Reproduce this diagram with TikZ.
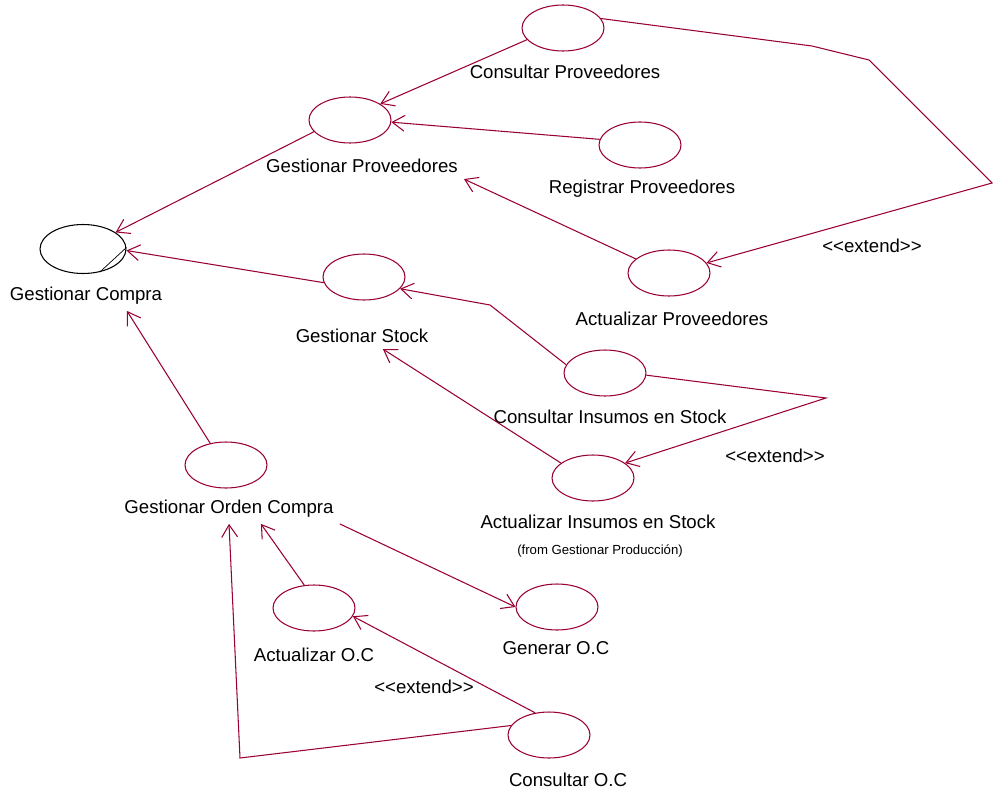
\documentclass[tikz,border=0pt]{standalone}
\usepackage{fontspec}
\newfontfamily\umlfont{Liberation Sans}
\usetikzlibrary{shapes.geometric,arrows.meta}
\definecolor{roseline}{RGB}{153,0,51}
\tikzset{
  usecase/.style={ellipse, draw=roseline, line width=0.6pt, minimum width=1.64cm, minimum height=0.92cm, inner sep=0},
  uclabel/.style={font=\umlfont\fontsize{10.6}{12.7}\selectfont},
  fromlabel/.style={font=\umlfont\fontsize{7.5}{9}\selectfont},
  rel/.style={draw=roseline, line width=0.6pt, -{Straight Barb[length=7pt,width=9pt]}},
}
\begin{document}
\begin{tikzpicture}[x=0.02cm, y=-0.02cm]
    \useasboundingbox (0,0) rectangle (993,794);
    % casos de uso
    \node[usecase, draw=black, minimum width=1.72cm, minimum height=0.98cm] (gc) at (83,249) {};
    \node[usecase] (cp) at (563,28) {};
    \node[usecase] (gp) at (350,120) {};
    \node[usecase] (rp) at (640,145) {};
    \node[usecase] (ap) at (669,273) {};
    \node[usecase] (gs) at (364,277) {};
    \node[usecase] (ci) at (605,373) {};
    \node[usecase] (ai) at (593,478) {};
    \node[usecase] (go) at (226,465) {};
    \node[usecase] (ao) at (314,608) {};
    \node[usecase] (ge) at (557,607) {};
    \node[usecase] (co) at (549,735) {};
    \draw (gc.-54) -- (gc.2);
    % namen
    \node[uclabel] (gcL) at (86,296) {Gestionar Compra};
    \node[uclabel] (cpL) at (565,72) {Consultar Proveedores};
    \node[uclabel] (gpL) at (362,166) {Gestionar Proveedores};
    \node[uclabel] (rpL) at (642,189) {Registrar Proveedores};
    \node[uclabel] (apL) at (672,319) {Actualizar Proveedores};
    \node[uclabel] (gsL) at (362,336) {Gestionar Stock};
    \node[uclabel] (ciL) at (610,417) {Consultar Insumos en Stock};
    \node[uclabel] (aiL) at (598,522) {Actualizar Insumos en Stock};
    \node[fromlabel] (aiF) at (600,551) {(from Gestionar Producción)};
    \node[uclabel] (goL) at (229,509) {Gestionar Orden Compra};
    \node[uclabel] (aoL) at (314,655) {Actualizar O.C};
    \node[uclabel] (geL) at (556,648) {Generar O.C};
    \node[uclabel] (coL) at (568,780) {Consultar O.C};
    \node[uclabel] (ext1) at (872,246) {<<extend>>};
    \node[uclabel] (ext2) at (775,456) {<<extend>>};
    \node[uclabel] (ext3) at (424,687) {<<extend>>};
    % knikpunten
    \coordinate (k1) at (812,46);
    \coordinate (k2) at (869,60);
    \coordinate (k3) at (992,183);
    \coordinate (k4) at (490,305);
    \coordinate (k5) at (826,398);
    \coordinate (k6) at (240,758);
    % relaties
    \draw[rel] (cp.198) -- (gp.28);
    \draw[rel] (rp.172) -- (gp.-3);
    \draw[rel] (gp.198) -- (gc.27);
    \draw[rel] (ap.157) -- (gpL.south east);
    \draw[rel] (cp.14) -- (k1) -- (k2) -- (k3) -- (ap.15);
    \draw[rel] (gs.188) -- (gc.-2);
    \draw[rel] (ci.168) -- (k4) -- (gs.-18);
    \draw[rel] (ai.155) -- (gsL.-32);
    \draw[rel] (ci.-3) -- (k5) -- (ai.25);
    \draw[rel] (go.126) -- (gcL.-20);
    \draw[rel] (goL.south east) -- (ge.west);
    \draw[rel] (ao.113) -- (goL.-25);
    \draw[rel] (co.122) -- (ao.-12);
    \draw[rel] (co.166) -- (k6) -- (goL.south);
\end{tikzpicture}
\end{document}
